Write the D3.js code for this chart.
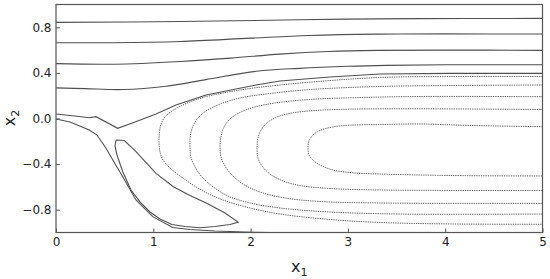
<!DOCTYPE html>
<html>
<head>
<meta charset="utf-8">
<script src="https://cdn.jsdelivr.net/npm/d3@7"></script>
<style>
  body { margin: 0; background: #fff; }
  svg { display: block; }
  text { font-family: "DejaVu Sans", sans-serif; fill: #222; }
</style>
</head>
<body>
<svg id="chart" width="550" height="279"></svg>
<script>
// ---- data (x1, x2 pairs) ----
const xTicks = [0, 1, 2, 3, 4, 5];
const yTicks = [0.8, 0.4, 0.0, -0.4, -0.8];
const yTickLabels = ["0.8", "0.4", "0.0", "\u22120.4", "\u22120.8"];

// solid level curves
const c1 = [[0,0.843],[1.28,0.851],[2.5,0.866],[3.3,0.874],[4.2,0.877],[5,0.878]];
const c2 = [[0,0.665],[0.6,0.665],[1.28,0.676],[2.0,0.705],[2.6,0.728],[3.3,0.74],[4,0.742],[5,0.741]];
const c3 = [[0,0.481],[0.6,0.476],[1.28,0.5],[1.8,0.53],[2.3,0.565],[2.8,0.588],[3.3,0.598],[4,0.6],[5,0.598]];
const c4 = [[0,0.269],[0.3,0.262],[0.69,0.254],[1.13,0.283],[1.54,0.341],[2.06,0.414],[2.5,0.44],[3.0,0.458],[3.4,0.466],[4,0.471],[5,0.472]];
const c5 = [[0,0.039],[0.195,0.022],[0.342,0.007],[0.411,0.016],[0.634,-0.086],[0.812,-0.031],[1.028,0.039],[1.233,0.118],[1.542,0.206],[2.055,0.294],[2.302,0.329],[2.816,0.364],[3.33,0.39],[4.049,0.396],[5,0.396]];
const c6 = [[0,-0.004],[0.144,-0.031],[0.342,-0.101],[0.421,-0.145],[0.514,-0.261],[0.596,-0.382],[0.686,-0.511],[0.822,-0.715],[0.994,-0.861],[1.199,-0.956],[1.377,-0.974],[1.634,-0.987],[1.942,-0.996],[2.21,-1.0]];
const loop = [[0.617,-0.189],[0.702,-0.193],[0.822,-0.291],[1.028,-0.481],[1.206,-0.598],[1.377,-0.675],[1.549,-0.744],[1.737,-0.829],[1.873,-0.911],[1.788,-0.93],[1.634,-0.947],[1.48,-0.958],[1.326,-0.947],[1.192,-0.93],[1.069,-0.882],[0.966,-0.82],[0.863,-0.732],[0.771,-0.627],[0.686,-0.467],[0.627,-0.32],[0.606,-0.241],[0.617,-0.189]];

// dotted level curves (top branch from right to vertex, then bottom branch to right)
const dot1 = [[5,0.368],[4.049,0.368],[3.33,0.36],[2.816,0.333],[2.302,0.294],[1.891,0.25],[1.531,0.189],[1.326,0.127],[1.192,0.066],[1.12,0.013],[1.079,-0.048],[1.064,-0.118],[1.059,-0.206],[1.069,-0.294],[1.1,-0.364],[1.172,-0.434],[1.274,-0.504],[1.377,-0.566],[1.531,-0.645],[1.716,-0.715],[1.994,-0.785],[2.302,-0.838],[2.816,-0.886],[3.33,-0.912],[4.049,-0.925],[5,-0.928]];
const dot2 = [[5,0.294],[4.049,0.289],[3.33,0.281],[2.61,0.254],[2.199,0.219],[1.891,0.18],[1.686,0.127],[1.542,0.066],[1.459,0.004],[1.408,-0.066],[1.382,-0.145],[1.377,-0.241],[1.387,-0.338],[1.429,-0.425],[1.501,-0.513],[1.603,-0.592],[1.768,-0.68],[1.994,-0.741],[2.302,-0.785],[2.816,-0.82],[3.535,-0.838],[5,-0.838]];
const dot3 = [[5,0.191],[3.741,0.193],[3.124,0.184],[2.61,0.167],[2.251,0.136],[2.045,0.101],[1.891,0.053],[1.788,-0.004],[1.727,-0.075],[1.696,-0.154],[1.686,-0.246],[1.696,-0.338],[1.737,-0.417],[1.809,-0.496],[1.922,-0.575],[2.097,-0.645],[2.354,-0.697],[2.713,-0.728],[3.33,-0.741],[5,-0.744]];
const dot4 = [[5,0.079],[3.741,0.085],[3.022,0.082],[2.662,0.07],[2.425,0.048],[2.271,0.013],[2.169,-0.039],[2.107,-0.101],[2.076,-0.171],[2.066,-0.259],[2.076,-0.346],[2.117,-0.417],[2.199,-0.487],[2.333,-0.548],[2.508,-0.588],[2.816,-0.614],[3.33,-0.627],[5,-0.632]];
const dot5 = [[5,-0.072],[4.255,-0.061],[3.741,-0.048],[3.33,-0.053],[3.022,-0.059],[2.837,-0.075],[2.713,-0.105],[2.641,-0.145],[2.6,-0.197],[2.59,-0.259],[2.6,-0.32],[2.652,-0.373],[2.734,-0.417],[2.867,-0.456],[3.073,-0.478],[3.33,-0.487],[4.049,-0.5],[5,-0.504]];

const solidCurves = [c1, c2, c3, c4, c5, c6, loop];
const dottedCurves = [dot1, dot2, dot3, dot4, dot5];

// ---- drawing ----
const svg = d3.select("#chart");
const pLeft = 56, pRight = 542.5, pTop = 4.5, pBottom = 232.5;
const x = d3.scaleLinear().domain([0, 5]).range([pLeft, pRight]);
const y = d3.scaleLinear().domain([-1, 1]).range([pBottom, pTop]);

svg.append("clipPath").attr("id", "clip")
  .append("rect").attr("x", pLeft).attr("y", pTop).attr("width", pRight - pLeft).attr("height", pBottom - pTop);

const g = svg.append("g").attr("clip-path", "url(#clip)");
const lineSmooth = d3.line().x(d => x(d[0])).y(d => y(d[1])).curve(d3.curveCatmullRom.alpha(0.5));
const lineLin = d3.line().x(d => x(d[0])).y(d => y(d[1]));

solidCurves.forEach((c, i) => {
  g.append("path").attr("d", (i >= 4 ? lineLin : lineSmooth)(c))
    .attr("fill", "none").attr("stroke", "#505050").attr("stroke-width", 1.1);
});
dottedCurves.forEach(c => {
  g.append("path").attr("d", lineSmooth(c))
    .attr("fill", "none").attr("stroke", "#5a5a5a").attr("stroke-width", 1)
    .attr("stroke-dasharray", "1.3,1");
});

// axes with inward ticks
const xAxis = d3.axisBottom(x).tickValues(xTicks).tickSizeInner(-4).tickSizeOuter(0).tickPadding(5)
  .tickFormat(d3.format("d"));
const gx = svg.append("g").attr("transform", `translate(0,${pBottom})`).call(xAxis);
const yAxis = d3.axisLeft(y).tickValues(yTicks).tickSizeInner(-4).tickSizeOuter(0).tickPadding(4.5)
  .tickFormat((d, i) => yTickLabels[i]);
const gy = svg.append("g").attr("transform", `translate(${pLeft},0)`).call(yAxis);
[gx, gy].forEach(a => {
  a.select(".domain").remove();
  a.selectAll(".tick line").attr("stroke", "#555");
  a.selectAll(".tick text").attr("font-size", 12).attr("fill", "#222")
    .attr("font-family", "DejaVu Sans, sans-serif");
});

// frame
svg.append("rect").attr("x", pLeft).attr("y", pTop).attr("width", pRight - pLeft).attr("height", pBottom - pTop)
  .attr("fill", "none").attr("stroke", "#555").attr("stroke-width", 1.2);

// axis labels
const xl = svg.append("text").attr("x", (pLeft + pRight) / 2).attr("y", 272)
  .attr("text-anchor", "middle").attr("font-size", 16);
xl.append("tspan").text("x");
xl.append("tspan").attr("font-size", 11).attr("dy", 4).text("1");

const yl = svg.append("text").attr("transform", "translate(15,118) rotate(-90)")
  .attr("text-anchor", "middle").attr("font-size", 16);
yl.append("tspan").text("x");
yl.append("tspan").attr("font-size", 11).attr("dy", 4).text("2");
</script>
</body>
</html>
